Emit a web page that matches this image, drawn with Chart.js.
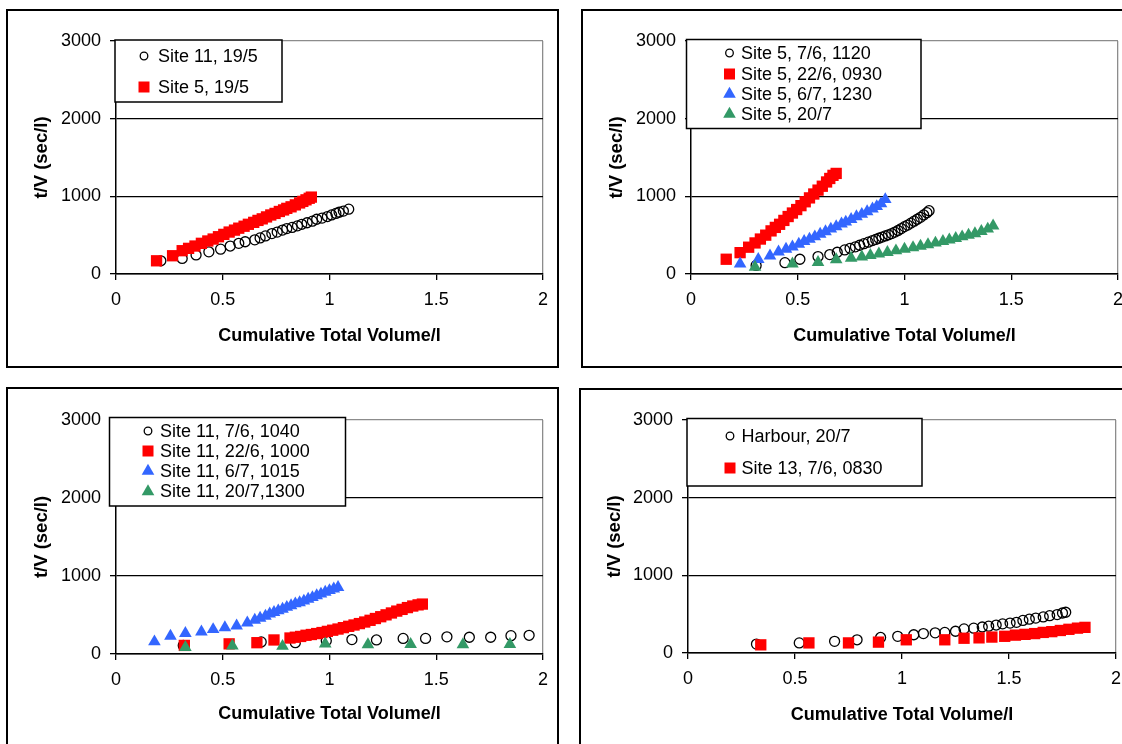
<!DOCTYPE html>
<html>
<head>
<meta charset="utf-8">
<script src="https://cdn.jsdelivr.net/npm/chart.js@4/dist/chart.umd.min.js"></script>
<style>
  html, body { margin: 0; padding: 0; background: #fff; overflow: hidden; width: 1122px; height: 744px; }
  .panel { position: absolute; box-sizing: border-box; border: 2px solid #000; background: #fff; width: 553px; height: 359px; }
  .panel canvas { display: block; }
</style>
</head>
<body>
<div class="panel" style="left:6px;top:9px"><canvas id="c1" width="549" height="355"></canvas></div>
<div class="panel" style="left:581px;top:9px"><canvas id="c2" width="549" height="355"></canvas></div>
<div class="panel" style="left:6px;top:387px"><canvas id="c3" width="549" height="355"></canvas></div>
<div class="panel" style="left:579px;top:388px"><canvas id="c4" width="549" height="355"></canvas></div>
<script>
// axis ticks
const xTicks = [0, 0.5, 1, 1.5, 2];
const yTicks = [0, 1000, 2000, 3000];
const xTitle = 'Cumulative Total Volume/l';
const yTitle = 't/V (sec/l)';

// panel 1
const site11_195_x = [0.21, 0.31, 0.375, 0.435, 0.49, 0.535, 0.575, 0.605, 0.65, 0.675, 0.70, 0.73, 0.755, 0.78, 0.80, 0.825, 0.85, 0.87, 0.895, 0.92, 0.94, 0.965, 0.99, 1.01, 1.03, 1.045, 1.065, 1.09];
const site11_195_y = [170, 200, 245, 285, 320, 360, 395, 415, 440, 465, 490, 520, 540, 565, 585, 600, 620, 640, 660, 680, 705, 720, 740, 760, 780, 795, 810, 835];
const site5_195_x = [0.19, 0.265, 0.31, 0.34, 0.37, 0.40, 0.43, 0.455, 0.48, 0.505, 0.53, 0.555, 0.575, 0.60, 0.62, 0.645, 0.665, 0.685, 0.705, 0.725, 0.745, 0.765, 0.785, 0.80, 0.82, 0.84, 0.86, 0.875, 0.89, 0.905, 0.915];
const site5_195_y = [170, 235, 300, 330, 360, 395, 425, 450, 480, 510, 540, 565, 590, 615, 640, 665, 690, 710, 735, 760, 780, 805, 825, 845, 865, 890, 915, 935, 955, 975, 990];

// panel 2
const site5_76_x = [0.305, 0.44, 0.51, 0.595, 0.65, 0.685, 0.72, 0.745, 0.77, 0.79, 0.81, 0.83, 0.85, 0.865, 0.88, 0.895, 0.91, 0.925, 0.94, 0.955, 0.97, 0.985, 1.0, 1.015, 1.03, 1.045, 1.06, 1.075, 1.09, 1.105, 1.115];
const site5_76_y = [110, 146, 190, 225, 250, 280, 310, 330, 350, 370, 390, 410, 430, 445, 460, 475, 490, 505, 520, 540, 560, 585, 610, 630, 655, 680, 705, 730, 760, 790, 815];
const site5_226_x = [0.165, 0.23, 0.27, 0.30, 0.325, 0.35, 0.375, 0.395, 0.415, 0.435, 0.455, 0.475, 0.495, 0.515, 0.535, 0.555, 0.575, 0.595, 0.615, 0.635, 0.65, 0.665, 0.68];
const site5_226_y = [190, 275, 345, 400, 450, 500, 555, 600, 640, 690, 740, 785, 830, 880, 930, 980, 1030, 1080, 1130, 1185, 1230, 1270, 1295];
const site5_67_x = [0.23, 0.315, 0.37, 0.41, 0.445, 0.475, 0.505, 0.53, 0.555, 0.58, 0.605, 0.63, 0.655, 0.68, 0.705, 0.725, 0.75, 0.775, 0.80, 0.825, 0.85, 0.87, 0.89, 0.91];
const site5_67_y = [130, 190, 235, 285, 320, 350, 385, 420, 450, 480, 515, 545, 580, 610, 645, 670, 705, 740, 770, 805, 840, 870, 905, 960];
const site5_207_x = [0.30, 0.475, 0.595, 0.68, 0.75, 0.80, 0.84, 0.88, 0.92, 0.96, 1.0, 1.04, 1.075, 1.11, 1.145, 1.18, 1.21, 1.24, 1.27, 1.30, 1.33, 1.36, 1.39, 1.415];
const site5_207_y = [90, 130, 150, 185, 205, 220, 240, 260, 280, 300, 320, 340, 360, 380, 400, 420, 440, 460, 480, 500, 520, 550, 580, 620];

// panel 3
const site11_76_x = [0.315, 0.68, 0.84, 0.985, 1.105, 1.22, 1.345, 1.45, 1.55, 1.655, 1.755, 1.85, 1.935];
const site11_76_y = [110, 155, 145, 170, 185, 180, 200, 200, 220, 215, 215, 235, 240];
const site11_226_x = [0.32, 0.53, 0.66, 0.74, 0.815, 0.84, 0.865, 0.89, 0.915, 0.94, 0.965, 0.99, 1.015, 1.04, 1.065, 1.09, 1.115, 1.14, 1.165, 1.19, 1.215, 1.24, 1.265, 1.29, 1.315, 1.34, 1.365, 1.39, 1.415, 1.435];
const site11_226_y = [110, 130, 145, 180, 205, 215, 225, 240, 250, 262, 275, 290, 305, 320, 338, 355, 372, 390, 410, 432, 455, 478, 502, 526, 550, 572, 595, 615, 630, 640];
const site11_67_x = [0.18, 0.255, 0.325, 0.40, 0.455, 0.51, 0.565, 0.615, 0.65, 0.675, 0.70, 0.72, 0.74, 0.76, 0.78, 0.80, 0.82, 0.84, 0.86, 0.88, 0.90, 0.92, 0.94, 0.96, 0.98, 1.0, 1.02, 1.04];
const site11_67_y = [158, 230, 265, 285, 315, 340, 360, 400, 435, 460, 485, 515, 535, 555, 575, 600, 620, 645, 660, 680, 705, 725, 750, 770, 795, 815, 835, 855];
const site11_207_x = [0.325, 0.545, 0.78, 0.98, 1.18, 1.38, 1.625, 1.845];
const site11_207_y = [85, 105, 100, 130, 120, 125, 120, 125];

// panel 4
const harbour_207_x = [0.32, 0.52, 0.685, 0.79, 0.90, 0.98, 1.055, 1.10, 1.155, 1.20, 1.25, 1.29, 1.335, 1.375, 1.405, 1.44, 1.47, 1.505, 1.535, 1.565, 1.595, 1.625, 1.66, 1.69, 1.725, 1.75, 1.765];
const harbour_207_y = [115, 130, 150, 170, 200, 215, 235, 250, 260, 265, 280, 310, 320, 335, 345, 360, 375, 385, 395, 420, 435, 450, 465, 480, 495, 515, 525];
const site13_76_x = [0.34, 0.565, 0.75, 0.89, 1.02, 1.20, 1.29, 1.36, 1.42, 1.48, 1.53, 1.575, 1.62, 1.66, 1.70, 1.74, 1.78, 1.82, 1.855];
const site13_76_y = [105, 130, 130, 140, 170, 170, 190, 195, 205, 215, 230, 240, 250, 265, 275, 290, 305, 320, 330];

const FONT = '"Liberation Sans", Arial, sans-serif';

const markers = {
  circle: { pointStyle: 'circle', pointRadius: 5, pointBorderColor: '#000', pointBorderWidth: 1.3, pointBackgroundColor: 'rgba(0,0,0,0)' },
  red: { pointStyle: 'rect', pointRadius: 8, pointBorderWidth: 0, pointBorderColor: '#ff0000', pointBackgroundColor: '#ff0000' },
  blue: { pointStyle: 'triangle', pointRadius: 7.3, pointBorderWidth: 0, pointBorderColor: '#3366ff', pointBackgroundColor: '#3366ff' },
  green: { pointStyle: 'triangle', pointRadius: 7.3, pointBorderWidth: 0, pointBorderColor: '#339966', pointBackgroundColor: '#339966' },
};

function zip(xs, ys) {
  return xs.map((x, i) => ({ x: x, y: ys[i] }));
}

function series(label, xs, ys, style, order) {
  return Object.assign({ label: label, data: zip(xs, ys), order: order }, markers[style]);
}

// legend drawn as a framed box inside the plot, like the original
function drawMarker(ctx, ds, x, y) {
  const r = ds.pointRadius;
  ctx.beginPath();
  if (ds.pointStyle === 'circle') {
    ctx.arc(x, y, 3.8, 0, Math.PI * 2);
    ctx.strokeStyle = ds.pointBorderColor;
    ctx.lineWidth = 1.3;
    ctx.stroke();
    return;
  }
  if (ds.pointStyle === 'rect') {
    const s = 5.5;
    ctx.rect(x - s, y - s, 2 * s, 2 * s);
  } else {
    ctx.moveTo(x, y - r);
    ctx.lineTo(x + r * 0.866, y + r * 0.5);
    ctx.lineTo(x - r * 0.866, y + r * 0.5);
    ctx.closePath();
  }
  ctx.fillStyle = ds.pointBackgroundColor;
  ctx.fill();
}

const boxLegend = {
  id: 'boxLegend',
  afterDraw(chart, args, opts) {
    const ctx = chart.ctx;
    ctx.save();
    ctx.fillStyle = '#fff';
    ctx.fillRect(opts.x, opts.y, opts.w, opts.h);
    ctx.strokeStyle = '#000';
    ctx.lineWidth = 1.5;
    ctx.strokeRect(opts.x, opts.y, opts.w, opts.h);
    ctx.font = '18px ' + FONT;
    ctx.textBaseline = 'middle';
    chart.data.datasets.forEach((ds, i) => {
      const y = opts.rows[i];
      drawMarker(ctx, ds, opts.markerX, y);
      ctx.fillStyle = '#000';
      ctx.fillText(ds.label, opts.textX, y + 1);
    });
    ctx.restore();
  }
};

function makeChart(id, plot, datasets, legend) {
  const canvas = document.getElementById(id);
  const W = canvas.width, H = canvas.height;
  return new Chart(canvas, {
    type: 'scatter',
    data: { datasets: datasets },
    plugins: [boxLegend],
    options: {
      responsive: false,
      animation: false,
      events: [],
      layout: { padding: { left: 0, top: plot.t, right: W - plot.r, bottom: 0 } },
      plugins: {
        legend: { display: false },
        tooltip: { enabled: false },
        boxLegend: legend,
      },
      scales: {
        x: {
          type: 'linear',
          min: xTicks[0],
          max: xTicks[xTicks.length - 1],
          afterFit: s => { s.height = H - plot.b; },
          afterBuildTicks: s => { s.ticks = xTicks.map(v => ({ value: v })); },
          ticks: { color: '#000', font: { family: FONT, size: 18 }, padding: 9, maxRotation: 0, callback: v => String(v) },
          grid: {
            color: c => (c.tick && c.tick.value === 2 ? '#8c8c8c' : 'rgba(0,0,0,0)'),
            tickColor: '#000',
            tickLength: 6,
            lineWidth: 1.3,
          },
          border: { color: '#000', width: 1.5 },
          title: { display: true, text: xTitle, color: '#000', font: { family: FONT, size: 18, weight: 'bold' }, padding: { top: 0, bottom: 19 } },
        },
        y: {
          type: 'linear',
          min: yTicks[0],
          max: yTicks[yTicks.length - 1],
          afterFit: s => { s.width = plot.l; },
          afterBuildTicks: s => { s.ticks = yTicks.map(v => ({ value: v })); },
          ticks: { color: '#000', font: { family: FONT, size: 18 }, padding: 9, callback: v => String(v) },
          grid: {
            color: c => (c.tick && c.tick.value === 3000 ? '#8c8c8c' : '#000'),
            tickColor: '#000',
            tickLength: 6,
            lineWidth: 1.3,
          },
          border: { color: '#000', width: 1.5 },
          title: { display: true, text: yTitle, color: '#000', font: { family: FONT, size: 18.5, weight: 'bold' }, padding: { top: 23, bottom: 0 } },
        },
      },
    },
  });
}

makeChart('c1', { l: 108, t: 30, r: 538, b: 263 }, [
  series('Site 11, 19/5', site11_195_x, site11_195_y, 'circle', 2),
  series('Site 5, 19/5', site5_195_x, site5_195_y, 'red', 1),
], { x: 107, y: 29, w: 167, h: 62, markerX: 136, textX: 150, rows: [45, 76] });

makeChart('c2', { l: 108, t: 30, r: 537, b: 263 }, [
  series('Site 5, 7/6, 1120', site5_76_x, site5_76_y, 'circle', 4),
  series('Site 5, 22/6, 0930', site5_226_x, site5_226_y, 'red', 3),
  series('Site 5, 6/7, 1230', site5_67_x, site5_67_y, 'blue', 2),
  series('Site 5, 20/7', site5_207_x, site5_207_y, 'green', 1),
], { x: 103.5, y: 28.5, w: 234.5, h: 89, markerX: 146.5, textX: 158, rows: [42, 63, 83, 103] });

makeChart('c3', { l: 108, t: 31, r: 537, b: 265 }, [
  series('Site 11, 7/6, 1040', site11_76_x, site11_76_y, 'circle', 4),
  series('Site 11, 22/6, 1000', site11_226_x, site11_226_y, 'red', 3),
  series('Site 11, 6/7, 1015', site11_67_x, site11_67_y, 'blue', 2),
  series('Site 11, 20/7,1300', site11_207_x, site11_207_y, 'green', 1),
], { x: 101.5, y: 28.5, w: 236, h: 88.5, markerX: 140, textX: 152, rows: [42, 62, 82, 102.5] });

makeChart('c4', { l: 107, t: 30, r: 538, b: 263 }, [
  series('Harbour, 20/7', harbour_207_x, harbour_207_y, 'circle', 2),
  series('Site 13, 7/6, 0830', site13_76_x, site13_76_y, 'red', 1),
], { x: 106, y: 28.5, w: 235, h: 67.5, markerX: 149, textX: 160.5, rows: [46, 78] });
</script>
</body>
</html>
